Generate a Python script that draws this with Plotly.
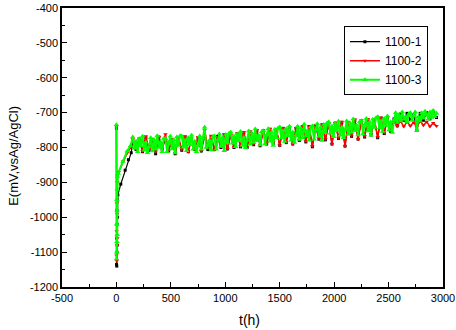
import plotly.graph_objects as go

# ---- data ----
x_tick_vals = [-500, 0, 500, 1000, 1500, 2000, 2500, 3000]
x_tick_text = ["-500", "0", "500", "1000", "1500", "2000", "2500", "3000"]
y_tick_vals = [-1200, -1100, -1000, -900, -800, -700, -600, -500, -400]
y_tick_text = ["-1200", "-1100", "-1000", "-900", "-800", "-700", "-600", "-500", "-400"]

t_early_1 = [0, 1, 2, 3, 4, 5, 6, 7, 8, 10, 13, 40, 80, 110, 136]
e_early_1 = [-745, -1135, -1060, -1140, -980, -1100, -1020, -1080, -950, -1000,
             -936, -905, -865, -835, -815]
t_early_2 = [0, 1, 2, 3, 4, 5, 6, 7, 8, 10, 20, 60, 100, 130]
e_early_2 = [-740, -1110, -1040, -1125, -960, -1080, -990, -1060, -900, -880,
             -870, -840, -815, -800]
t_early_3 = [0, 1, 2, 3, 4, 5, 6, 7, 8, 10, 15, 60, 100, 130]
e_early_3 = [-735, -1120, -1020, -1100, -950, -1070, -980, -1050, -920, -883,
             -875, -840, -810, -795]

t_band = [150, 180, 210, 240, 270, 300, 330, 360, 390, 420,
          450, 480, 510, 540, 570, 600, 630, 660, 690, 720,
          750, 780, 810, 840, 870, 900, 930, 960, 990, 1020,
          1050, 1080, 1110, 1140, 1170, 1200, 1230, 1260, 1290, 1320,
          1350, 1380, 1410, 1440, 1470, 1500, 1530, 1560, 1590, 1620,
          1650, 1680, 1710, 1740, 1770, 1800, 1830, 1860, 1890, 1920,
          1950, 1980, 2010, 2040, 2070, 2100, 2130, 2160, 2190, 2220,
          2250, 2280, 2310, 2340, 2370, 2400, 2430, 2460, 2490, 2520,
          2550, 2580, 2610, 2640, 2670, 2700, 2730, 2760, 2790, 2820,
          2850, 2880, 2910, 2940]

e_band_1 = [-780, -806, -776, -812, -772, -808, -778, -818, -770, -805,
            -775, -810, -778, -818, -772, -808, -770, -812, -776, -806,
            -772, -810, -768, -806, -770, -806, -768, -800, -764, -804,
            -764, -800, -760, -798, -758, -800, -756, -792, -752, -795,
            -752, -790, -748, -788, -750, -794, -745, -786, -744, -790,
            -745, -780, -740, -784, -740, -798, -738, -776, -735, -778,
            -733, -790, -730, -774, -728, -796, -728, -768, -722, -776,
            -724, -770, -720, -764, -722, -772, -716, -760, -714, -754,
            -718, -738, -704, -722, -702, -720, -706, -750, -702, -722,
            -700, -718, -698, -714]

e_band_2 = [-776, -804, -774, -810, -768, -806, -775, -812, -770, -802,
            -762, -808, -776, -815, -772, -806, -768, -812, -774, -802,
            -770, -810, -750, -802, -766, -806, -770, -798, -762, -804,
            -764, -798, -760, -796, -756, -800, -754, -790, -750, -792,
            -752, -788, -746, -786, -748, -794, -744, -784, -742, -790,
            -744, -778, -738, -782, -740, -796, -736, -774, -734, -776,
            -732, -790, -730, -772, -726, -796, -728, -766, -720, -776,
            -722, -768, -718, -762, -720, -770, -714, -758, -713, -752,
            -726, -738, -724, -740, -726, -738, -728, -742, -724, -736,
            -726, -740, -730, -738]

t_band_3 = [150, 165, 180, 195, 210, 225, 240, 255, 270, 285,
            300, 315, 330, 345, 360, 375, 390, 405, 420, 435,
            450, 465, 480, 495, 510, 525, 540, 555, 570, 585,
            600, 615, 630, 645, 660, 675, 690, 705, 720, 735,
            750, 765, 780, 795, 810, 825, 840, 855, 870, 885,
            900, 915, 930, 945, 960, 975, 990, 1005, 1020, 1035,
            1050, 1065, 1080, 1095, 1110, 1125, 1140, 1155, 1170, 1185,
            1200, 1215, 1230, 1245, 1260, 1275, 1290, 1305, 1320, 1335,
            1350, 1365, 1380, 1395, 1410, 1425, 1440, 1455, 1470, 1485,
            1500, 1515, 1530, 1545, 1560, 1575, 1590, 1605, 1620, 1635,
            1650, 1665, 1680, 1695, 1710, 1725, 1740, 1755, 1770, 1785,
            1800, 1815, 1830, 1845, 1860, 1875, 1890, 1905, 1920, 1935,
            1950, 1965, 1980, 1995, 2010, 2025, 2040, 2055, 2070, 2085,
            2100, 2115, 2130, 2145, 2160, 2175, 2190, 2205, 2220, 2235,
            2250, 2265, 2280, 2295, 2310, 2325, 2340, 2355, 2370, 2385,
            2400, 2415, 2430, 2445, 2460, 2475, 2490, 2505, 2520, 2535,
            2550, 2565, 2580, 2595, 2610, 2625, 2640, 2655, 2670, 2685,
            2700, 2715, 2730, 2745, 2760, 2775, 2790, 2805, 2820, 2835,
            2850, 2865, 2880, 2895, 2910, 2925, 2940]

e_band_3 = [-770, -802, -782, -812, -775, -795, -768, -808, -785, -815,
            -798, -772, -810, -778, -805, -766, -800, -784, -812, -774,
            -774, -812, -786, -768, -804, -778, -816, -770, -794, -766,
            -767, -799, -779, -809, -772, -792, -765, -805, -782, -812,
            -793, -767, -805, -773, -742, -800, -795, -779, -807, -769,
            -767, -805, -779, -761, -797, -771, -809, -763, -787, -759,
            -756, -788, -768, -798, -761, -781, -754, -794, -771, -801,
            -779, -753, -791, -759, -786, -747, -781, -765, -793, -755,
            -752, -790, -764, -746, -782, -756, -794, -748, -772, -744,
            -741, -773, -753, -783, -746, -766, -739, -779, -756, -786,
            -765, -739, -777, -745, -772, -733, -767, -751, -779, -741,
            -738, -776, -750, -732, -768, -742, -780, -734, -758, -730,
            -727, -759, -739, -769, -732, -752, -725, -765, -742, -772,
            -750, -724, -762, -730, -757, -718, -752, -736, -764, -726,
            -723, -761, -735, -717, -753, -727, -765, -719, -743, -715,
            -712, -744, -724, -754, -717, -737, -710, -750, -727, -757,
            -722, -700, -728, -706, -724, -698, -720, -712, -726, -704,
            -700, -722, -708, -698, -752, -712, -724, -700, -716, -696,
            -706, -718, -698, -714, -694, -712, -702]

series_names = ["1100-1", "1100-2", "1100-3"]
colors = ["#000000", "#ff0000", "#00ff00"]
symbols = ["square", "triangle-down", "triangle-up"]
marker_sizes = [3, 4, 5]
line_widths = [1.2, 1.5, 2]

fig = go.Figure()
data = [
    (t_early_1 + t_band, e_early_1 + e_band_1),
    (t_early_2 + t_band, e_early_2 + e_band_2),
    (t_early_3 + t_band_3, e_early_3 + e_band_3),
]
for (tx, ey), name, col, sym, ms, lw in zip(data, series_names, colors, symbols,
                                             marker_sizes, line_widths):
    fig.add_trace(go.Scatter(
        x=tx, y=ey, name=name, mode="lines+markers",
        line=dict(color=col, width=lw),
        marker=dict(color=col, symbol=sym, size=ms),
    ))

axis_font = dict(family="Liberation Sans, Arial, sans-serif", size=11, color="#000")
fig.update_layout(
    width=456, height=330,
    margin=dict(l=62, r=13, t=8, b=43, autoexpand=False),
    paper_bgcolor="white", plot_bgcolor="white",
    font=dict(family="Liberation Sans, Arial, sans-serif", color="#000"),
    showlegend=True,
    legend=dict(
        x=0.74, y=0.935, xanchor="left", yanchor="top",
        bordercolor="#000", borderwidth=1, bgcolor="white",
        font=dict(size=12, family="Liberation Sans, Arial, sans-serif"),
        tracegroupgap=0, itemwidth=30,
    ),
    xaxis=dict(
        range=[-500, 3000], tickvals=x_tick_vals, ticktext=x_tick_text,
        ticks="inside", ticklen=5, tickwidth=1, tickcolor="#000",
        minor=dict(ticks="inside", ticklen=3, dtick=250, tickcolor="#000"),
        showline=True, linecolor="#000", linewidth=1.5, mirror=True,
        showgrid=False, zeroline=False, tickfont=axis_font, automargin=False,
    ),
    yaxis=dict(
        range=[-1200, -400], tickvals=y_tick_vals, ticktext=y_tick_text,
        ticks="inside", ticklen=5, tickwidth=1, tickcolor="#000",
        minor=dict(ticks="inside", ticklen=3, dtick=50, tickcolor="#000"),
        showline=True, linecolor="#000", linewidth=1.5, mirror=True,
        showgrid=False, zeroline=False, tickfont=axis_font, automargin=False,
    ),
    annotations=[
        dict(text="t(h)", xref="paper", yref="paper", x=0.493, y=-0.118,
             xanchor="center", yanchor="middle", showarrow=False,
             font=dict(size=14)),
        dict(text="E(mV,vsAg/AgCl)", xref="paper", yref="paper", x=-0.126, y=0.47,
             xanchor="center", yanchor="middle", showarrow=False, textangle=-90,
             font=dict(size=13)),
    ],
)

fig.write_html("out.html", config={"displayModeBar": False},
               post_script="document.body.style.margin='0';document.body.style.padding='0';")
